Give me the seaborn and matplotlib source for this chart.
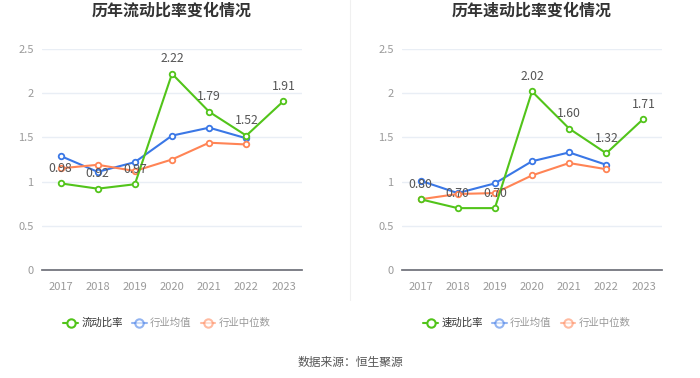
import numpy as np
import pandas as pd
import matplotlib
matplotlib.use("Agg")
import matplotlib.pyplot as plt
from matplotlib.lines import Line2D
import seaborn as sns

sns.set_theme(style="white")
plt.rcParams["font.family"] = ["Noto Sans CJK SC", "DejaVu Sans"]

# ── 数据 ─────────────────────────────────────────────
years = ["2017", "2018", "2019", "2020", "2021", "2022", "2023"]

current_ratio = [0.98, 0.92, 0.97, 2.22, 1.79, 1.52, 1.91]
current_avg = [1.29, 1.11, 1.22, 1.52, 1.61, 1.49, np.nan]
current_med = [1.15, 1.19, 1.12, 1.25, 1.44, 1.42, np.nan]

quick_ratio = [0.80, 0.70, 0.70, 2.02, 1.60, 1.32, 1.71]
quick_avg = [1.01, 0.87, 0.98, 1.23, 1.33, 1.19, np.nan]
quick_med = [0.80, 0.86, 0.87, 1.07, 1.21, 1.14, np.nan]

GREEN = "#52C41A"
BLUE = "#3A77E6"
ORANGE = "#FF8455"
GRID = "#E9EEF5"
TICK = "#9A9A9A"

fig = plt.figure(figsize=(7, 3.78), dpi=100)
ax1 = fig.add_axes([42 / 700, 1 - 270 / 378, 260 / 700, 221 / 378])
ax2 = fig.add_axes([402 / 700, 1 - 270 / 378, 260 / 700, 221 / 378])

# 中间分隔线
fig.add_artist(Line2D([0.5, 0.5], [1 - 300 / 378, 1.0], color="#F0F0F0", lw=0.8))


def draw(ax, title, main, avg, med, main_name):
    x = np.arange(len(years))
    for vals, color in [(avg, BLUE), (med, ORANGE), (main, GREEN)]:
        df = pd.DataFrame({"x": x, "y": vals}).dropna()
        sns.lineplot(data=df, x="x", y="y", ax=ax, color=color, lw=1.5,
                     marker="o", markersize=4, markerfacecolor="white",
                     markeredgecolor=color, markeredgewidth=1.3)
    for xi, v in zip(x, main):
        ax.annotate(f"{v:.2f}", (xi, v), xytext=(0, 6), textcoords="offset points",
                    ha="center", va="bottom", fontsize=8.8, color="#555555")
    ax.set_xlim(-0.5, len(years) - 0.5)
    ax.set_ylim(0, 2.5)
    ax.set_yticks([0, 0.5, 1, 1.5, 2, 2.5])
    ax.set_yticklabels(["0", "0.5", "1", "1.5", "2", "2.5"])
    ax.set_xticks(x)
    ax.set_xticklabels(years)
    ax.tick_params(axis="both", colors=TICK, labelsize=8, length=0, pad=6)
    ax.tick_params(axis="x", length=3, color="#6E7079")
    ax.grid(axis="y", color=GRID, lw=1)
    ax.set_axisbelow(True)
    for s in ["top", "right", "left"]:
        ax.spines[s].set_visible(False)
    ax.spines["bottom"].set_color("#6E7079")
    ax.set_xlabel("")
    ax.set_ylabel("")
    ax.set_title(title, fontsize=11.5, fontweight="bold", color="#333333", pad=24)

    handles = [
        Line2D([], [], color=GREEN, lw=1.5, marker="o", markersize=6,
               markerfacecolor="white", markeredgewidth=1.5),
        Line2D([], [], color=BLUE, lw=1.5, marker="o", markersize=6,
               markerfacecolor="white", markeredgewidth=1.5, alpha=0.55),
        Line2D([], [], color=ORANGE, lw=1.5, marker="o", markersize=6,
               markerfacecolor="white", markeredgewidth=1.5, alpha=0.55),
    ]
    leg = ax.legend(handles, [main_name, "行业均值", "行业中位数"],
                    loc="center", bbox_to_anchor=(0.48, -0.24), ncol=3,
                    frameon=False, fontsize=7.5, handlelength=1.4,
                    handletextpad=0.3, columnspacing=0.9)
    for t, c in zip(leg.get_texts(), ["#333333", "#999999", "#999999"]):
        t.set_color(c)


draw(ax1, "历年流动比率变化情况", current_ratio, current_avg, current_med, "流动比率")
draw(ax2, "历年速动比率变化情况", quick_ratio, quick_avg, quick_med, "速动比率")

fig.text(0.5, 1 - 362 / 378, "数据来源：恒生聚源", ha="center", va="center",
         fontsize=8.5, color="#555555")

fig.savefig("out.png", dpi=100)
